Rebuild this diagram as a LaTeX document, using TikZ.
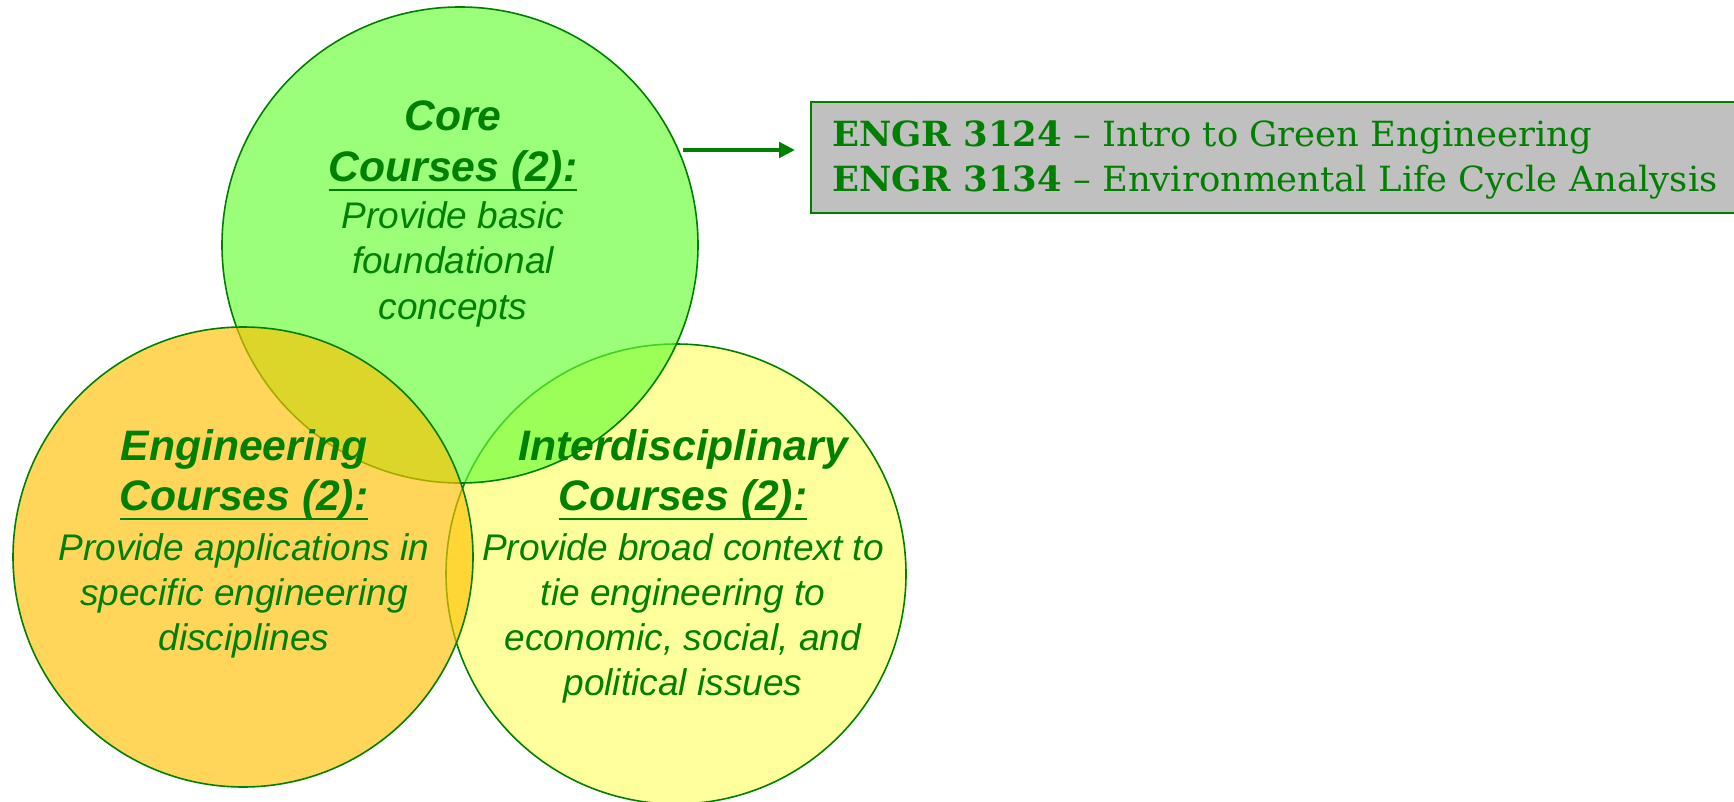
\documentclass[tikz,border=0pt]{standalone}
\usepackage{fontspec}
\setmainfont{Liberation Sans}
\newfontfamily\boxfont[Ligatures=TeX]{DejaVu Serif}
\usetikzlibrary{arrows.meta}
\definecolor{tgreen}{RGB}{0,128,0}
\definecolor{coreC}{RGB}{102,255,51}
\definecolor{engC}{RGB}{255,192,0}
\definecolor{intC}{RGB}{255,255,102}
\definecolor{boxC}{RGB}{192,192,192}
\newcommand\myul[1]{\setbox0\hbox{#1}\rlap{\rule[-6.9pt]{\wd0}{1.7pt}}\box0}
\newlength\lTwo
\newcommand\boxlines{\begin{tabular}[t]{@{}l@{}}\textbf{ENGR 3124} \textendash{} Intro to Green Engineering\\\textbf{ENGR 3134} \textendash{} Environmental Life Cycle Analysis\end{tabular}}
\newcommand\fitbox{\settowidth\lTwo{\textbf{ENGR 3134} \textendash{} Environmental Life Cycle Analysis}\pgfmathsetmacro\bxs{664/\lTwo}\scalebox{\bxs}[1]{\boxlines}}
\tikzset{
  venn/.style={circle, draw=tgreen, line width=1.2pt, fill opacity=0.65, inner sep=0pt, outer sep=0pt},
  vtitle/.style={anchor=base, text=tgreen, inner sep=0pt, font=\fontsize{32}{38}\selectfont\bfseries\itshape},
  vbody/.style={anchor=base, text=tgreen, inner sep=0pt, font=\fontsize{27.8}{33.75}\selectfont\itshape},
  boxtext/.style={anchor=base west, text=tgreen, inner sep=0pt, font=\boxfont\fontsize{26}{33.75}\selectfont},
}
\begin{document}
\begin{tikzpicture}[x=0.75pt,y=-0.75pt]
\useasboundingbox (0,0) rectangle (1734,802);
\clip (0,0) rectangle (1734,802);
% circles
\node[venn, fill=intC, minimum size=345pt] (inter) at (676,574) {};
\node[venn, fill=coreC, minimum size=357pt] (core) at (460,245) {};
\node[venn, fill=engC, minimum size=345pt] (eng) at (243,557) {};
% texts
\node[vtitle] (coreT) at (453,131) {\begin{tabular}[t]{@{}c@{}}Core\\\myul{Courses (2):}\end{tabular}};
\node[vbody] (coreB) at (453,229) {\begin{tabular}[t]{@{}c@{}}Provide basic\\foundational\\concepts\end{tabular}};
\node[vtitle] (engT) at (244,460) {\begin{tabular}[t]{@{}c@{}}Engineering\\\myul{Courses (2):}\end{tabular}};
\node[vbody] (engB) at (244,560) {\begin{tabular}[t]{@{}c@{}}Provide applications in\\specific engineering\\disciplines\end{tabular}};
\node[vtitle] (intT) at (683,460) {\begin{tabular}[t]{@{}c@{}}Interdisciplinary\\\myul{Courses (2):}\end{tabular}};
\node[vbody] (intB) at (683,560) {\begin{tabular}[t]{@{}c@{}}Provide broad context to\\tie engineering to\\economic, social, and\\political issues\end{tabular}};
% box
\node[draw=tgreen, line width=1.2pt, fill=boxC, minimum width=700.5pt, minimum height=83.25pt, inner sep=0pt, outer sep=0pt] (box) at (1278,157.5) {};
\node[boxtext] (boxT) at (832,147) {\fitbox};
% arrow
\coordinate (aS) at (683,150);
\draw[tgreen, line width=3.5pt, -{Triangle[length=12pt,width=11.5pt]}, shorten >=12pt] (aS) -- (aS -| box.west);
\end{tikzpicture}
\end{document}
